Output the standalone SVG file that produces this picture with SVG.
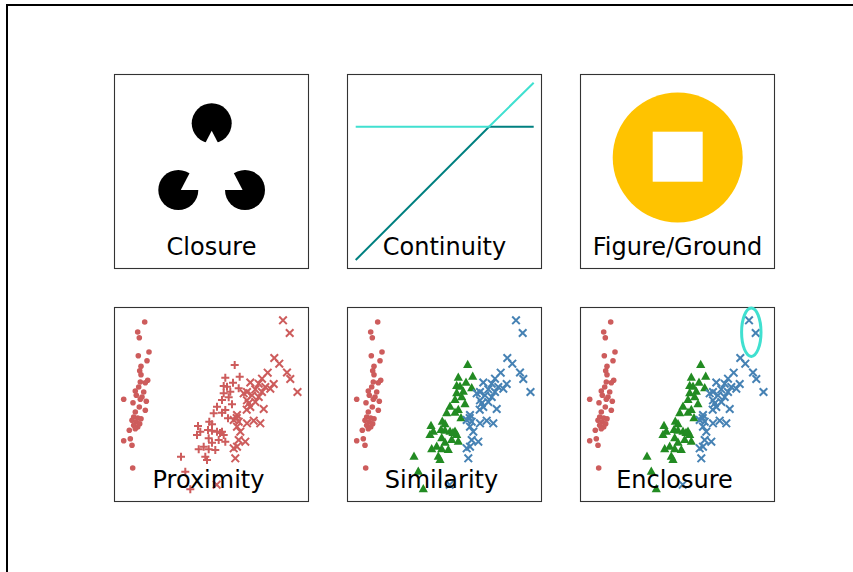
<svg xmlns="http://www.w3.org/2000/svg" xmlns:xlink="http://www.w3.org/1999/xlink" width="853" height="572" viewBox="0 0 853 572">
<style>
.frame{fill:none;stroke:#000;stroke-width:2}
.box{fill:#fff;stroke:#333;stroke-width:1.1}
.lbl{font-family:"DejaVu Sans","Liberation Sans",sans-serif;font-size:24px;fill:#000;text-anchor:middle}
.pts{fill:none;stroke:none}
.dotR{marker-start:url(#mDotR);marker-mid:url(#mDotR);marker-end:url(#mDotR)}
.plusR{marker-start:url(#mPlusR);marker-mid:url(#mPlusR);marker-end:url(#mPlusR)}
.xR{marker-start:url(#mXR);marker-mid:url(#mXR);marker-end:url(#mXR)}
.triG{marker-start:url(#mTriG);marker-mid:url(#mTriG);marker-end:url(#mTriG)}
.xB{marker-start:url(#mXB);marker-mid:url(#mXB);marker-end:url(#mXB)}
</style>
<defs>
<marker id="mDotR" markerUnits="userSpaceOnUse" markerWidth="10" markerHeight="10" refX="0" refY="0" overflow="visible"><circle r="2.8" fill="#CD5C5C"/></marker>
<marker id="mPlusR" markerUnits="userSpaceOnUse" markerWidth="10" markerHeight="10" refX="0" refY="0" overflow="visible"><path d="M-4 0H4M0 -4V4" stroke="#CD5C5C" stroke-width="2" fill="none"/></marker>
<marker id="mXR" markerUnits="userSpaceOnUse" markerWidth="10" markerHeight="10" refX="0" refY="0" overflow="visible"><path d="M-3.8 -3.8L3.8 3.8M-3.8 3.8L3.8 -3.8" stroke="#CD5C5C" stroke-width="2" fill="none"/></marker>
<marker id="mXB" markerUnits="userSpaceOnUse" markerWidth="10" markerHeight="10" refX="0" refY="0" overflow="visible"><path d="M-3.8 -3.8L3.8 3.8M-3.8 3.8L3.8 -3.8" stroke="#4682B4" stroke-width="2" fill="none"/></marker>
<marker id="mTriG" markerUnits="userSpaceOnUse" markerWidth="10" markerHeight="10" refX="0" refY="0" overflow="visible"><polygon points="0,-5.2 4.6,3 -4.6,3" fill="#228B22"/></marker>
<path id="setosa" class="pts" d="M377.7 322L370.7 332L372.3 337.7L382 352L371.3 355.7L380 360.7L374 366.3L372.7 370.7L374 374.7L380.7 380.3L378.3 382.7L373.3 382L371.7 387L368.3 391L376.7 392L369.3 395.3L375 397L373.3 399.3L356.7 399.3L379.3 401.3L366 402.7L372.3 407L378.3 410.3L368.3 412L366.7 417L370.7 418L374 418.7L365 420.3L369.3 422L372.7 423.7L366.7 425.3L370.7 427L368.3 428.7L362.3 430.3L363.3 438.7L356.7 440.7L365 445.3L365.7 468"/>
<path id="versicolor" class="pts" d="M467.7 365L472.7 376.7L458.3 377.7L466 382.7L456.7 386L460 386.7L471.7 388.3L463.3 391.7L456.7 393.3L455 400L461.7 397.3L465 404.3L450 406.7L458.3 410L455 412.7L446.7 413.3L461 418.3L442.3 421.7L445 424.3L433.3 431.7L441 430L445 430.7L450 431.7L455 431.7L430 435L441.7 438.3L451.7 440L456.7 435L445 442.7L458.3 441.7L436.7 446.7L431.7 449.3L448.3 450L441.7 449.3L438.3 456.7L414 456.7L418.3 471.7L423.3 489.3L453 433L440 460L431 426"/>
<path id="virginica" class="pts" d="M516 320.3L522.7 333L507.3 358L512.3 363.7L500.7 372.7L520 372.5L523.3 379L495 378.7L483.3 382.5L491.7 383.7L506.7 384L498.3 387L488.3 389.3L503.3 388.7L530.5 392L480 392L495 392L485 395.3L491.7 397L480 400.3L488.3 402L483.3 407L496.7 409L476.7 393.3L481.7 403.3L470 415L486.7 420.7L493.3 423.3L480 423.3L471.7 421.7L466.7 420L470 426.7L473.3 431.7L478.3 441.7L471.7 440L470 446.7L466.7 448.3L468.3 458.3L449.7 484.7L479.7 409.7L469.7 418"/>
</defs>
<rect width="853" height="572" fill="#fff"/>
<path class="frame" d="M7 572V5H853"/>

<g id="closure">
<rect class="box" x="114.5" y="74.5" width="194" height="194"/>
<circle cx="211.7" cy="123.3" r="20" fill="#000"/>
<circle cx="178.3" cy="190" r="20" fill="#000"/>
<circle cx="245" cy="190" r="20" fill="#000"/>
<polygon points="180.8,190 242.6,190 211.7,130.8" fill="#fff"/>
<text class="lbl" x="211.5" y="254.5">Closure</text>
</g>

<g id="continuity">
<rect class="box" x="347.5" y="74.5" width="194" height="194"/>
<polyline points="355.7,260 489,126.7 533.7,126.7" fill="none" stroke="#008080" stroke-width="2"/>
<polyline points="355.7,126.7 489,126.7 533.7,82.7" fill="none" stroke="#40E0D0" stroke-width="2"/>
<text class="lbl" x="444.5" y="254.5">Continuity</text>
</g>

<g id="figure-ground">
<rect class="box" x="580.5" y="74.5" width="194" height="194"/>
<circle cx="677.7" cy="157.5" r="65" fill="#FFC300"/>
<rect x="652.7" y="131.7" width="50" height="50" fill="#fff"/>
<text class="lbl" x="677.5" y="254.5">Figure/Ground</text>
</g>

<g id="proximity">
<rect class="box" x="114.5" y="307.5" width="194" height="194"/>
<g transform="translate(-233 0)">
<use xlink:href="#setosa" class="dotR"/>
<use xlink:href="#versicolor" class="plusR"/>
<use xlink:href="#virginica" class="xR"/>
</g>
<text class="lbl" x="208.5" y="487.5">Proximity</text>
</g>

<g id="similarity">
<rect class="box" x="347.5" y="307.5" width="194" height="194"/>
<use xlink:href="#setosa" class="dotR"/>
<use xlink:href="#versicolor" class="triG"/>
<use xlink:href="#virginica" class="xB"/>
<text class="lbl" x="441.5" y="487.5">Similarity</text>
</g>

<g id="enclosure">
<rect class="box" x="580.5" y="307.5" width="194" height="194"/>
<g transform="translate(233 0)">
<use xlink:href="#setosa" class="dotR"/>
<use xlink:href="#versicolor" class="triG"/>
<use xlink:href="#virginica" class="xB"/>
</g>
<ellipse cx="751.3" cy="332.2" rx="9.7" ry="24.2" fill="none" stroke="#40E0D0" stroke-width="3"/>
<text class="lbl" x="674.5" y="487.5">Enclosure</text>
</g>
</svg>
